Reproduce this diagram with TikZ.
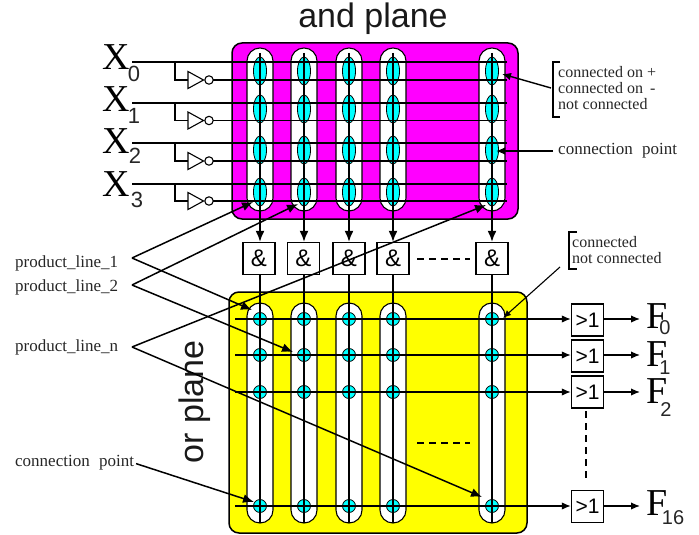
\documentclass[tikz,border=0pt]{standalone}
\usepackage{fontspec}
\setmainfont{Liberation Serif}
\setsansfont{Liberation Sans}
\usetikzlibrary{arrows.meta}
\definecolor{mag}{RGB}{255,0,255}
\definecolor{cyanf}{RGB}{0,255,255}
\definecolor{yel}{RGB}{255,255,0}
\tikzset{
  ln/.style={line width=1.5pt,black},
  thinln/.style={line width=1.1pt,black},
  arr/.style={ln,-{Latex[length=11pt,width=9pt]}},
  arrs/.style={line width=1.4pt,black,-{Latex[length=9pt,width=7.5pt]}},
  plane/.style={draw,line width=1.5pt,rounded corners=10pt},
  caps/.style={draw,fill=white,line width=1.1pt},
  gatebox/.style={draw,line width=1.4pt,fill=white,minimum width=32pt,minimum height=32pt,inner sep=0pt,font=\sffamily\fontsize{21}{21}\selectfont},
  amp/.style={gatebox,font=\sffamily\fontsize{24}{24}\selectfont},
  lab/.style={font=\rmfamily\fontsize{16}{16}\selectfont,inner sep=0pt,anchor=west,text=black!85},
  labl/.style={lab,font=\rmfamily\fontsize{17}{17}\selectfont},
  bigl/.style={font=\rmfamily\fontsize{38}{38}\selectfont,inner sep=0pt},
  subl/.style={font=\sffamily\fontsize{22}{22}\selectfont,inner sep=0pt,text=black!85},
  subf/.style={font=\sffamily\fontsize{20}{20}\selectfont,inner sep=0pt,text=black!85},
  title/.style={font=\sffamily\fontsize{34}{34}\selectfont,inner sep=0pt,text=black!90},
  dsh/.style={line width=1.3pt,dash pattern=on 7pt off 5pt},
}
\begin{document}
\begin{tikzpicture}[x=1pt,y=-1pt]
\useasboundingbox (0,0) rectangle (699,535);
% planes
\draw[plane,fill=mag] (232,43) rectangle (518,219);
\draw[plane,fill=yel] (229,292) rectangle (527,533);
\node[title] (tand) at (373,19) {and plane};
\node[title,rotate=90] (tor) at (195,402) {or plane};
% capsules
\foreach \x in {260,304,349,393,492}{
  \draw[caps,rounded corners=12.9pt] (\x-13,48) rectangle (\x+13,211);
  \draw[caps,rounded corners=12.9pt] (\x-13,303) rectangle (\x+13,523);
  \foreach \y in {71,109,150,192}
    \draw[line width=0.8pt,fill=cyanf] (\x,\y) ellipse (6.5 and 14);
  \foreach \y in {319,355,392,506}
    \draw[line width=0.8pt,fill=cyanf] (\x,\y) circle (6.5);
}
% and gates
\foreach \n/\x in {1/259,2/303.5,3/349,4/393,5/492}{
  \node[amp] (g\n) at (\x,258.5) {\&};
}
% vertical lines
\foreach \n/\x in {1/260,2/304,3/349,4/393,5/492}{
  \coordinate (vt\n) at (\x,53);
  \coordinate (vb\n) at (\x,523);
  \draw[arr] (vt\n) -- (vt\n |- g\n.north);
  \draw[ln] (vt\n |- g\n.south) -- (vb\n);
}
% inputs
\foreach \i/\ya/\yb/\ylab/\ysub/\xsub in {0/62/80/57.5/74/134,1/103/120.5/99/115.5/134,2/143/161/141.5/156/135,3/184/201/184.5/200/137}{
  \coordinate (xs\i) at (132,\ya);
  \coordinate (xe\i) at (507,\ya);
  \draw[ln] (xs\i) -- (xe\i);
  \coordinate (bb\i) at (175,\ya);
  \coordinate (tri\i) at (188,\yb);
  \draw[ln] (bb\i) |- (tri\i);
  \draw[line width=1.1pt,fill=white] (188,\yb-8.5) -- (203.5,\yb) -- (188,\yb+8.5) -- cycle;
  \draw[line width=1.1pt,fill=white] (209,\yb) circle (4.2);
  \coordinate (ne\i) at (213.2,\yb);
  \coordinate (nf\i) at (507,\yb);
  \draw[ln] (ne\i) -- (nf\i);
  \node[bigl] (X\i) at (116,\ylab) {X};
  \node[subl] (Xs\i) at (\xsub,\ysub) {\i};
}
% outputs
\foreach \n/\y/\yc in {0/319/320,1/355/356,2/392/392,3/506/506.5}{
  \node[gatebox] (o\n) at (587.5,\yc) {>1};
  \coordinate (os\n) at (235,\y);
  \draw[arrs] (os\n) -- (o\n.west |- os\n);
  \coordinate (oe\n) at (640,\y);
  \draw[arrs] (o\n.east |- oe\n) -- (oe\n);
}
\node[bigl] (F0) at (657,316) {F};
\node[bigl] (F1) at (657,354) {F};
\node[bigl] (F2) at (657,391) {F};
\node[bigl] (F3) at (657,503) {F};
\node[subf] (Fs0) at (665,328) {0};
\node[subf] (Fs1) at (665,368) {1};
\node[subf] (Fs2) at (666,410) {2};
\node[subf] (Fs3) at (673,518) {16};
% dashes
\coordinate (d1a) at (417,259); \coordinate (d1b) at (470,259);
\draw[dsh] (d1a) -- (d1b);
\coordinate (d2a) at (417,443); \coordinate (d2b) at (470,443);
\draw[dsh] (d2a) -- (d2b);
\coordinate (d3a) at (586,411); \coordinate (d3b) at (586,480);
\draw[dsh] (d3a) -- (d3b);
% left labels
\node[labl] (p1) at (15,263) {product\_line\_1};
\node[labl] (p2) at (15,287) {product\_line\_2};
\node[labl] (pn) at (15,347) {product\_line\_n};
\node[labl] (cpl) at (15,463) {connection\hspace{5pt} point};
\coordinate (a1) at (132,258);
\coordinate (a2) at (132,285);
\coordinate (an) at (132,347);
\coordinate (t1a) at (253,202); \coordinate (t1o) at (252,310);
\coordinate (t2a) at (298,204); \coordinate (t2o) at (293,352);
\coordinate (tna) at (486,205); \coordinate (tno) at (482,497);
\coordinate (tcp) at (254,502);
\draw[arr] (a1) -- (t1a);
\draw[arr] (a1) -- (t1o);
\draw[arr] (a2) -- (t2a);
\draw[arr] (a2) -- (t2o);
\draw[arr] (an) -- (tna);
\draw[arr] (an) -- (tno);
\draw[arr,shorten <=2pt] (cpl.east) -- (tcp);
% right labels
\coordinate (b1a) at (560,62); \coordinate (b1b) at (553,62); \coordinate (b1c) at (553,117); \coordinate (b1d) at (560,117);
\draw[ln] (b1a) -- (b1b) -- (b1c) -- (b1d);
\node[lab] (c1) at (558,72.5) {connected on +};
\node[lab] (c2) at (558,88.5) {connected on\hspace{3pt} -};
\node[lab] (c3) at (558,104.5) {not connected};
\coordinate (m1) at (551,88); \coordinate (m1t) at (502,74);
\draw[arrs] (m1) -- (m1t);
\node[labl] (cp) at (558,151) {connection\hspace{5pt} point};
\coordinate (m2) at (553,151); \coordinate (m2t) at (496,151);
\draw[arrs] (m2) -- (m2t);
\coordinate (b2a) at (577,232); \coordinate (b2b) at (569,232); \coordinate (b2c) at (569,269); \coordinate (b2d) at (577,269);
\draw[ln] (b2a) -- (b2b) -- (b2c) -- (b2d);
\node[lab] (d1) at (572,242) {connected};
\node[lab] (d2) at (572,258) {not connected};
\coordinate (m3) at (560,267); \coordinate (m3t) at (503,318);
\draw[thinln,-{Latex[length=8pt,width=6.5pt]}] (m3) -- (m3t);
\end{tikzpicture}
\end{document}
